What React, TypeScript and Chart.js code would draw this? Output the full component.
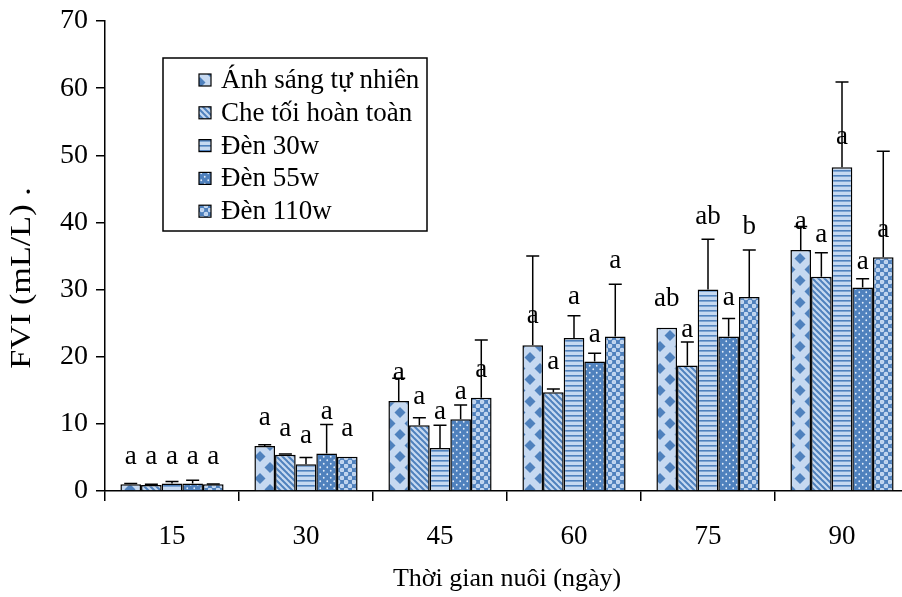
import React, { useEffect, useRef } from "react";
import { Chart, registerables } from "chart.js";

Chart.register(...registerables);

// ---------- data ----------
const categories = ["15", "30", "45", "60", "75", "90"];
const seriesNames = ["Ánh sáng tự nhiên", "Che tối hoàn toàn", "Đèn 30w", "Đèn 55w", "Đèn 110w"];

const naturalLight = [1.0, 6.7, 13.4, 21.7, 24.3, 35.9];
const fullDark = [0.9, 5.4, 9.8, 14.7, 18.7, 31.9];
const lamp30w = [1.1, 4.0, 6.4, 22.8, 30.0, 48.2];
const lamp55w = [1.1, 5.6, 10.7, 19.3, 23.0, 30.3];
const lamp110w = [1.0, 5.1, 13.9, 23.0, 28.9, 34.8];

const naturalLightErr = [0.1, 0.2, 3.4, 13.3, 0.0, 3.5];
const fullDarkErr = [0.1, 0.1, 1.1, 0.5, 3.5, 3.6];
const lamp30wErr = [0.3, 1.0, 3.4, 3.3, 7.5, 12.7];
const lamp55wErr = [0.5, 4.3, 2.1, 1.2, 2.7, 1.3];
const lamp110wErr = [0.05, 0.0, 8.6, 7.8, 7.0, 15.8];

const naturalLightLetters = ["a", "a", "a", "a", "ab", "a"];
const fullDarkLetters = ["a", "a", "a", "a", "a", "a"];
const lamp30wLetters = ["a", "a", "a", "a", "ab", "a"];
const lamp55wLetters = ["a", "a", "a", "a", "a", "a"];
const lamp110wLetters = ["a", "a", "a", "a", "b", "a"];

// height (in FVI units) at which each significance letter sits
const naturalLightLetterAt = [5.1, 10.9, 17.6, 26.1, 28.6, 40.1];
const fullDarkLetterAt = [5.1, 9.2, 14.0, 19.3, 24.0, 38.1];
const lamp30wLetterAt = [5.1, 8.2, 11.8, 28.9, 40.8, 52.7];
const lamp55wLetterAt = [5.1, 11.8, 14.7, 23.3, 28.7, 34.1];
const lamp110wLetterAt = [5.1, 9.2, 18.0, 34.3, 39.3, 38.9];

const yTicks = [0, 10, 20, 30, 40, 50, 60, 70];
const yTitle = "FVI (mL/L) .";
const xTitle = "Thời gian nuôi (ngày)";

// ---------- styling ----------
const FONT = "'Liberation Serif', 'Times New Roman', serif";
const LIGHT = "#c6d9f1";
const DARK = "#4f81bd";

function makePattern(kind: string): CanvasPattern | string {
  const c = document.createElement("canvas");
  const g = c.getContext("2d");
  if (!g) return DARK;
  if (kind === "diamond") {
    c.width = 20; c.height = 22;
    g.fillStyle = LIGHT; g.fillRect(0, 0, 20, 22);
    g.fillStyle = DARK;
    const dia = (cx: number, cy: number) => {
      g.beginPath();
      g.moveTo(cx, cy - 5.5); g.lineTo(cx + 5.5, cy); g.lineTo(cx, cy + 5.5); g.lineTo(cx - 5.5, cy);
      g.closePath(); g.fill();
    };
    dia(10, 5.5); dia(0, 16.5); dia(20, 16.5); dia(10, 27.5); dia(0, -5.5); dia(20, -5.5);
  } else if (kind === "diag") {
    c.width = 6; c.height = 6;
    g.fillStyle = LIGHT; g.fillRect(0, 0, 6, 6);
    g.strokeStyle = DARK; g.lineWidth = 2;
    for (const o of [-6, 0, 6]) {
      g.beginPath(); g.moveTo(o - 1, -1); g.lineTo(o + 7, 7); g.stroke();
    }
  } else if (kind === "hstripe") {
    c.width = 4; c.height = 5;
    g.fillStyle = LIGHT; g.fillRect(0, 0, 4, 5);
    g.fillStyle = DARK; g.fillRect(0, 0, 4, 1.6);
  } else if (kind === "dots") {
    c.width = 7; c.height = 7;
    g.fillStyle = DARK; g.fillRect(0, 0, 7, 7);
    g.fillStyle = "#e4eefa";
    g.beginPath(); g.arc(1.75, 1.75, 0.9, 0, Math.PI * 2); g.fill();
    g.beginPath(); g.arc(5.25, 5.25, 0.9, 0, Math.PI * 2); g.fill();
  } else {
    c.width = 8; c.height = 8;
    g.fillStyle = DARK; g.fillRect(0, 0, 8, 8);
    g.fillStyle = LIGHT;
    const rr = (x: number, y: number) => {
      g.beginPath(); g.arc(x, y, 2.3, 0, Math.PI * 2); g.fill();
    };
    rr(2, 2); rr(6, 6);
    g.fillStyle = "#9dbbe2";
    g.fillRect(1.5, 1.5, 1, 1); g.fillRect(5.5, 5.5, 1, 1);
  }
  return g.createPattern(c, "repeat") || DARK;
}

export default function App() {
  const ref = useRef<HTMLCanvasElement | null>(null);

  useEffect(() => {
    const canvas = ref.current;
    if (!canvas) return;

    const values = [naturalLight, fullDark, lamp30w, lamp55w, lamp110w];
    const errs = [naturalLightErr, fullDarkErr, lamp30wErr, lamp55wErr, lamp110wErr];
    const letters = [naturalLightLetters, fullDarkLetters, lamp30wLetters, lamp55wLetters, lamp110wLetters];
    const letterAt = [naturalLightLetterAt, fullDarkLetterAt, lamp30wLetterAt, lamp55wLetterAt, lamp110wLetterAt];
    const kinds = ["diamond", "diag", "hstripe", "dots", "circles"];
    const fills = kinds.map((k) => makePattern(k));

    const extras = {
      id: "extras",
      afterDatasetsDraw(chart: any) {
        const ctx = chart.ctx as CanvasRenderingContext2D;
        const y = chart.scales.y;
        ctx.save();
        // error bars
        ctx.strokeStyle = "#000";
        ctx.lineWidth = 1.5;
        values.forEach((vals, di) => {
          const meta = chart.getDatasetMeta(di);
          meta.data.forEach((bar: any, i: number) => {
            const e = errs[di][i];
            if (e <= 0) return;
            const top = y.getPixelForValue(vals[i] + e);
            ctx.beginPath();
            ctx.moveTo(bar.x, bar.y);
            ctx.lineTo(bar.x, top);
            ctx.moveTo(bar.x - 6.5, top);
            ctx.lineTo(bar.x + 6.5, top);
            ctx.stroke();
          });
        });
        // letters
        ctx.fillStyle = "#000";
        ctx.font = `27px ${FONT}`;
        ctx.textAlign = "center";
        ctx.textBaseline = "middle";
        values.forEach((vals, di) => {
          const meta = chart.getDatasetMeta(di);
          meta.data.forEach((bar: any, i: number) => {
            ctx.fillText(letters[di][i], bar.x, y.getPixelForValue(letterAt[di][i]));
          });
        });
        // y title
        ctx.save();
        ctx.font = `29px ${FONT}`;
        ctx.translate(22, 278);
        ctx.rotate(-Math.PI / 2);
        ctx.scale(1.18, 1);
        ctx.fillText(yTitle, 0, 0);
        ctx.restore();
        // legend
        const lx = 163, ly = 58, lw = 264, lh = 173;
        ctx.fillStyle = "#fff";
        ctx.fillRect(lx, ly, lw, lh);
        ctx.lineWidth = 1.5;
        ctx.strokeStyle = "#000";
        ctx.strokeRect(lx, ly, lw, lh);
        ctx.font = `27px ${FONT}`;
        ctx.textAlign = "left";
        seriesNames.forEach((name, i) => {
          const cy = 80 + i * 32.8;
          ctx.fillStyle = fills[i] as any;
          ctx.fillRect(199, cy - 6, 12, 12);
          ctx.lineWidth = 1.2;
          ctx.strokeRect(199, cy - 6, 12, 12);
          ctx.fillStyle = "#000";
          ctx.fillText(name, 221, cy + 1);
        });
        ctx.restore();
      },
    };

    const chart = new Chart(canvas, {
      type: "bar",
      data: {
        labels: categories,
        datasets: values.map((vals, i) => ({
          label: seriesNames[i],
          data: vals,
          backgroundColor: fills[i] as any,
          borderColor: "#000",
          borderWidth: 1.5,
          categoryPercentage: 0.77,
          barPercentage: 1.0,
        })),
      },
      options: {
        responsive: false,
        animation: false,
        devicePixelRatio: 1,
        layout: { padding: { top: 21, right: 1, left: 0, bottom: 0 } },
        plugins: { legend: { display: false }, tooltip: { enabled: false }, title: { display: false } },
        scales: {
          x: {
            offset: true,
            grid: {
              display: true,
              offset: true,
              drawOnChartArea: false,
              drawTicks: true,
              tickLength: 10,
              color: "#000",
              lineWidth: 1.5,
            },
            border: { display: true, color: "#000", width: 1.5 },
            ticks: { color: "#000", font: { family: FONT, size: 27 }, padding: 20, maxRotation: 0 },
            title: { display: true, text: xTitle, color: "#000", font: { family: FONT, size: 26 }, padding: { top: 0, bottom: 2 } },
            afterFit(scale: any) {
              scale.height = 106;
              scale.paddingLeft = 0;
              scale.paddingRight = 0;
            },
          },
          y: {
            min: 0,
            max: 70,
            afterBuildTicks(scale: any) { scale.ticks = yTicks.map((v) => ({ value: v })); },
            grid: {
              display: true,
              drawOnChartArea: false,
              drawTicks: true,
              tickLength: 9,
              color: "#000",
              lineWidth: 1.5,
            },
            border: { display: true, color: "#000", width: 1.5 },
            ticks: { color: "#000", font: { family: FONT, size: 28 }, padding: 8 },
            afterFit(scale: any) {
              scale.width = 105;
              scale.paddingTop = 0;
              scale.paddingBottom = 0;
            },
          },
        },
      },
      plugins: [extras],
    });

    return () => chart.destroy();
  }, []);

  return (
    <div style={{ position: "absolute", left: 0, top: 0, width: 902, height: 597, overflow: "hidden", background: "#fff" }}>
      <canvas ref={ref} width={910} height={597} style={{ display: "block" }} />
    </div>
  );
}
